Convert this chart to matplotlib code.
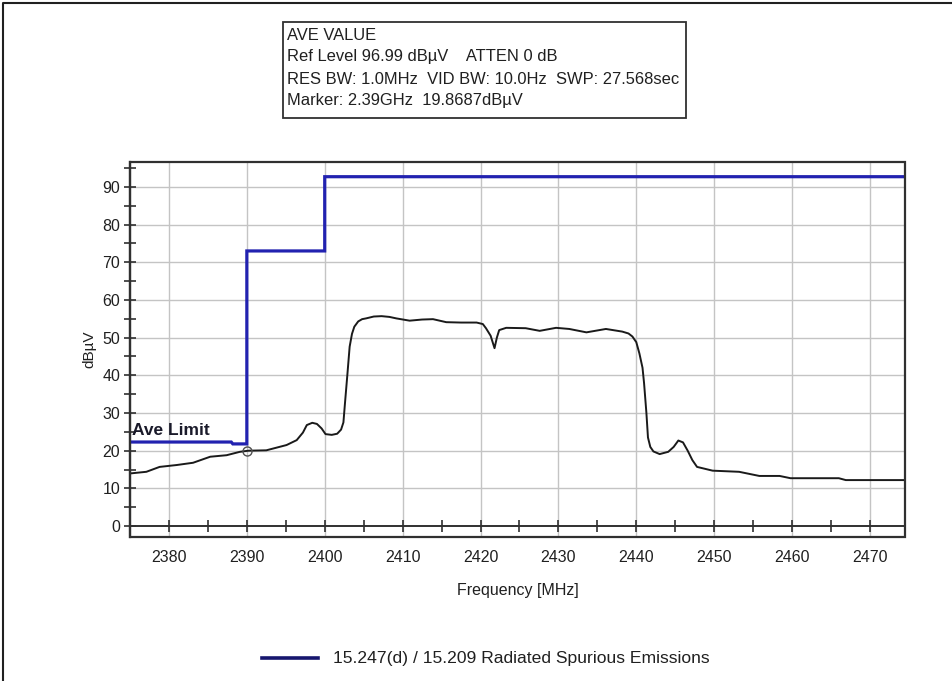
import matplotlib
matplotlib.use("Agg")
import matplotlib.pyplot as plt
from matplotlib.patches import Rectangle
from matplotlib.ticker import MultipleLocator
from matplotlib.lines import Line2D

plt.rcParams['font.family'] = ['Liberation Sans', 'DejaVu Sans']

# Measured average trace (MHz, dBuV)
freq = [2375.0, 2375.2, 2377.1, 2378.8, 2381.0, 2383.1, 2385.3, 2387.4, 2389.1, 2390.2,
        2392.5, 2395.1, 2396.4, 2397.2, 2397.7, 2398.4, 2399.0, 2399.6, 2400.1, 2400.9,
        2401.6, 2402.1, 2402.4, 2402.6, 2402.9, 2403.2, 2403.5, 2403.8, 2404.3, 2404.8,
        2405.3, 2406.3, 2407.3, 2408.3, 2409.2, 2410.9, 2412.5, 2413.9, 2415.6, 2417.5,
        2419.5, 2420.3, 2420.7, 2421.3, 2421.8, 2422.1, 2422.4, 2423.3, 2425.8, 2427.6,
        2429.7, 2431.4, 2433.6, 2436.1, 2438.2, 2439.0, 2439.5, 2440.0, 2440.4, 2440.8,
        2441.0, 2441.3, 2441.5, 2441.8, 2442.2, 2443.0, 2444.1, 2444.8, 2445.4, 2446.0,
        2446.6, 2447.2, 2447.8, 2449.8, 2453.2, 2455.8, 2458.4, 2459.8, 2466.0, 2466.9,
        2474.5]
level = [14.0, 14.0, 14.4, 15.7, 16.2, 16.8, 18.4, 18.8, 19.7, 20.0,
         20.1, 21.5, 22.8, 24.8, 26.8, 27.4, 27.1, 25.9, 24.4, 24.2,
         24.5, 25.6, 27.5, 32.6, 40.0, 47.6, 51.0, 52.9, 54.3, 54.9,
         55.1, 55.6, 55.7, 55.5, 55.1, 54.5, 54.8, 54.9, 54.1, 54.0,
         54.0, 53.6, 52.5, 50.5, 47.2, 50.0, 52.0, 52.6, 52.5, 51.8,
         52.6, 52.3, 51.4, 52.3, 51.6, 51.1, 50.3, 48.8, 45.8, 42.0,
         37.9, 30.0, 23.5, 21.0, 19.8, 19.1, 19.7, 21.0, 22.7, 22.2,
         20.0, 17.5, 15.7, 14.7, 14.4, 13.3, 13.3, 12.7, 12.7, 12.2,
         12.2]

# Average limit line (step)
limit_freq = [2375.0, 2388.0, 2388.2, 2390.0, 2390.0, 2400.0, 2400.0, 2474.5]
limit_level = [22.3, 22.3, 21.8, 21.8, 73.0, 73.0, 92.7, 92.7]

marker_freq = 2390.0
marker_level = 19.8687

xticks = [2380, 2390, 2400, 2410, 2420, 2430, 2440, 2450, 2460, 2470]
yticks = [0, 10, 20, 30, 40, 50, 60, 70, 80, 90]

info_lines = ["AVE VALUE",
              "Ref Level 96.99 dB\u00b5V    ATTEN 0 dB",
              "RES BW: 1.0MHz  VID BW: 10.0Hz  SWP: 27.568sec",
              "Marker: 2.39GHz  19.8687dB\u00b5V"]
legend_text = "15.247(d) / 15.209 Radiated Spurious Emissions"

W, H = 952, 681
fig = plt.figure(figsize=(W / 100, H / 100), dpi=100)
fig.patch.set_facecolor("white")

ax = fig.add_axes([130 / W, 1 - 537 / H, (905 - 130) / W, (537 - 162) / H])
ax.set_xlim(2375, 2474.5)
ax.set_ylim(-2.9, 96.6)

# grid
for x in xticks:
    ax.axvline(x, color="#c4c4c4", lw=1.0, zorder=0)
for y in yticks[1:]:
    ax.axhline(y, color="#c4c4c4", lw=1.0, zorder=0)

# frame and zero axis
for s in ax.spines.values():
    s.set_visible(False)
ax.add_patch(Rectangle((0, 0), 1, 1, transform=ax.transAxes, fill=False,
                       edgecolor="#303030", lw=1.6, zorder=5, clip_on=False))
ax.spines['bottom'].set_visible(True)
ax.spines['bottom'].set_position(('data', 0))
ax.spines['bottom'].set_color("#303030")
ax.spines['bottom'].set_linewidth(1.4)
ax.spines['left'].set_visible(True)
ax.spines['left'].set_color("#303030")
ax.spines['left'].set_linewidth(1.6)

ax.xaxis.set_minor_locator(MultipleLocator(5))
ax.yaxis.set_minor_locator(MultipleLocator(5))
ax.set_xticks(xticks)
ax.set_yticks(yticks)
ax.tick_params(axis='x', which='both', direction='inout', length=8, width=1.2,
               color="#303030", pad=13, labelsize=11.5)
ax.tick_params(axis='y', which='both', direction='inout', length=8, width=1.2,
               color="#303030", pad=3, labelsize=11.5)
for lab in ax.get_xticklabels() + ax.get_yticklabels():
    lab.set_color("#202020")

ax.set_xlabel("Frequency [MHz]", fontsize=11.5, color="#202020", labelpad=13)
ax.set_ylabel("dB\u00b5V", fontsize=11, color="#202020", labelpad=4)

# traces
ax.plot(limit_freq, limit_level, color="#2222b0", lw=2.3, zorder=3, solid_joinstyle='miter')
ax.plot(freq, level, color="#1a1a1a", lw=1.4, zorder=4)
ax.plot([marker_freq], [marker_level], marker='o', ms=6.5, mfc='none', mec="#505050",
        mew=1.0, zorder=6)
ax.text(2375.3, 23.4, "Ave Limit", fontsize=12.5, fontweight='bold', color="#1a1a2a",
        ha='left', va='bottom', zorder=6)

# info box
fig.patches.append(Rectangle((283 / W, 1 - 118 / H), (686 - 283) / W, (118 - 22) / H,
                             transform=fig.transFigure, fill=False, edgecolor="#303030",
                             lw=1.3))
for i, t in enumerate(info_lines):
    fig.text(287 / W, 1 - (35 + 22 * i) / H, t, fontsize=11.9, color="#202020",
             ha='left', va='center')

# legend
fig.add_artist(Line2D([262 / W, 318 / W], [1 - 658 / H, 1 - 658 / H],
                      transform=fig.transFigure, color="#16166e", lw=2.6))
fig.text(333 / W, 1 - 658 / H, legend_text, fontsize=12.6, color="#202020",
         ha='left', va='center')

# outer frame
fig.add_artist(Line2D([3 / W, 3 / W, 1.0], [0, 1 - 3 / H, 1 - 3 / H],
                      transform=fig.transFigure, color="#202020", lw=1.5))

fig.savefig("out.png", dpi=100)
